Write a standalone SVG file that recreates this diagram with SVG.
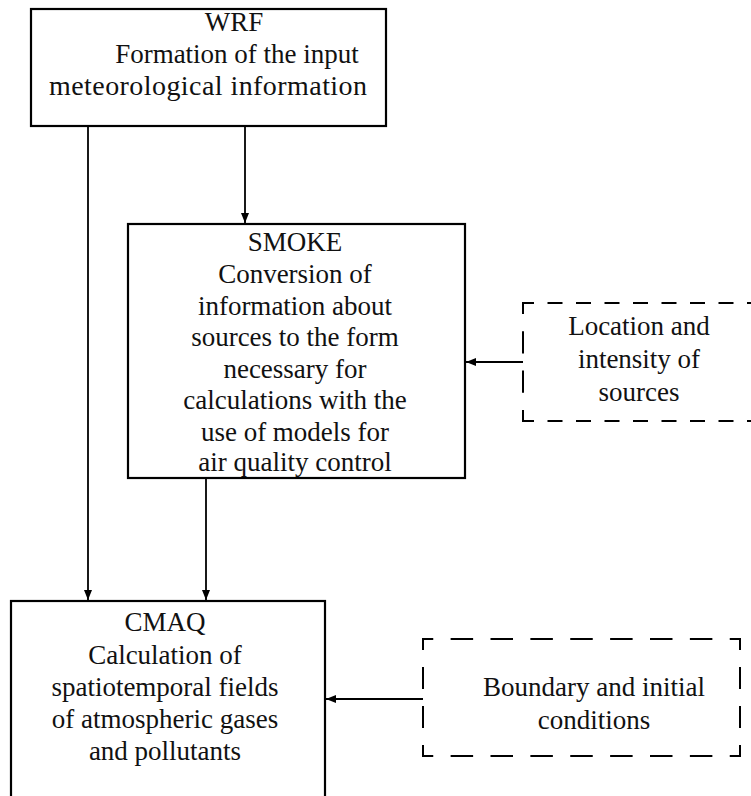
<svg xmlns="http://www.w3.org/2000/svg" width="751" height="796" viewBox="0 0 751 796">
<style>
.box{fill:#fff;stroke:#000;stroke-width:2.2}
.dash{fill:none;stroke:#000;stroke-width:2}
.t{font-family:"Liberation Serif","Times New Roman",serif;font-size:27px;fill:#111;text-anchor:middle}
.c{stroke:#000;stroke-width:1.8;fill:none}
</style>
<defs>
<marker id="ah" viewBox="0 0 10 10" refX="10" refY="5" markerWidth="10" markerHeight="10" markerUnits="userSpaceOnUse" orient="auto">
<path d="M0,1 L10,5 L0,9 Z" fill="#000"/>
</marker>
</defs>
<rect width="751" height="796" fill="#fff"/>
<g id="connectors">
<line class="c" x1="88" y1="126" x2="88" y2="600" marker-end="url(#ah)"/>
<line class="c" x1="245" y1="126" x2="245" y2="223" marker-end="url(#ah)"/>
<line class="c" x1="206" y1="478" x2="206" y2="600" marker-end="url(#ah)"/>
<line class="c" x1="523" y1="362" x2="466" y2="362" marker-end="url(#ah)"/>
<line class="c" x1="423" y1="699" x2="326" y2="699" marker-end="url(#ah)"/>
</g>
<g id="wrf">
<rect class="box" x="31" y="9" width="355" height="117"/>
<text class="t" x="234" y="31">WRF</text>
<text class="t" x="237" y="63">Formation of the input</text>
<text class="t" x="208" y="95" style="font-size:28px" textLength="318" lengthAdjust="spacing">meteorological information</text>
</g>
<g id="smoke">
<rect class="box" x="128" y="224" width="337" height="254"/>
<text class="t" x="295" y="251">SMOKE</text>
<text class="t" x="295" y="283">Conversion of</text>
<text class="t" x="295" y="314.5">information about</text>
<text class="t" x="295" y="346">sources to the form</text>
<text class="t" x="295" y="377.5">necessary for</text>
<text class="t" x="295" y="409">calculations with the</text>
<text class="t" x="295" y="440.5">use of models for</text>
<text class="t" x="295" y="471">air quality control</text>
</g>
<g id="location">
<line class="dash" x1="523" y1="303" x2="523" y2="421" pathLength="117" stroke-dasharray="22 17" stroke-dashoffset="11"/>
<line class="dash" x1="522" y1="303" x2="800" y2="303" stroke-dasharray="15 13.5" stroke-dashoffset="3"/>
<line class="dash" x1="522" y1="421" x2="800" y2="421" stroke-dasharray="15 13.5" stroke-dashoffset="3"/>
<text class="t" x="639" y="335">Location and</text>
<text class="t" x="639" y="368">intensity of</text>
<text class="t" x="639" y="401">sources</text>
</g>
<g id="cmaq">
<rect class="box" x="11" y="601" width="314" height="220"/>
<text class="t" x="165" y="631">CMAQ</text>
<text class="t" x="165" y="663.5">Calculation of</text>
<text class="t" x="165" y="695.5">spatiotemporal fields</text>
<text class="t" x="165" y="727.5">of atmospheric gases</text>
<text class="t" x="165" y="759.5">and pollutants</text>
</g>
<g id="boundary">
<line class="dash" x1="422" y1="639" x2="741" y2="639" pathLength="312" stroke-dasharray="22 17" stroke-dashoffset="11"/>
<line class="dash" x1="422" y1="756" x2="741" y2="756" pathLength="312" stroke-dasharray="22 17" stroke-dashoffset="11"/>
<line class="dash" x1="423" y1="639" x2="423" y2="756" pathLength="117" stroke-dasharray="22 17" stroke-dashoffset="11"/>
<line class="dash" x1="740" y1="639" x2="740" y2="756" pathLength="117" stroke-dasharray="22 17" stroke-dashoffset="11"/>
<text class="t" x="594" y="696">Boundary and initial</text>
<text class="t" x="594" y="729">conditions</text>
</g>
</svg>
